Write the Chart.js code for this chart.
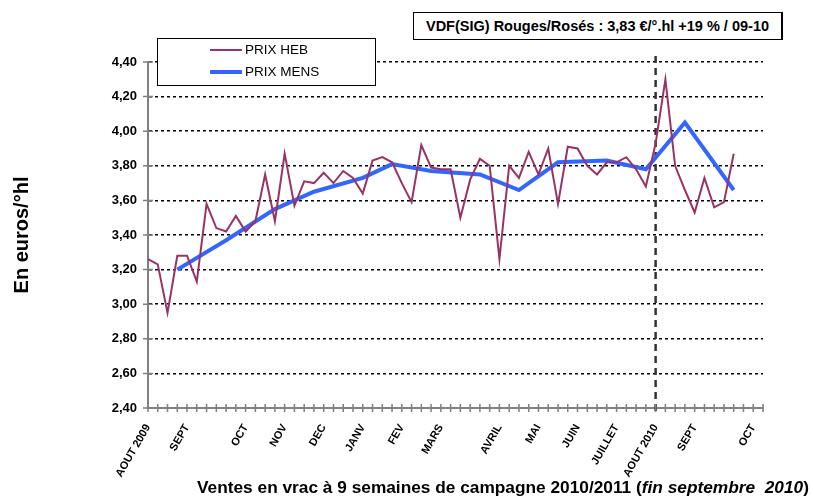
<!DOCTYPE html>
<html>
<head>
<meta charset="utf-8">
<script src="https://cdn.jsdelivr.net/npm/chart.js@4.4.1/dist/chart.umd.min.js"></script>
<style>
body { margin: 0; background: #fff; }
#wrap { position: relative; width: 813px; height: 497px; }
#note {
    position: absolute; left: 413px; top: 12px; width: 367px; height: 26px;
    border: 1px solid #000; border-right-width: 2px;
    font: bold 14.5px Arial, "Liberation Sans", sans-serif;
    line-height: 26px; text-align: center; background: #fff;
}
#xtitle {
    position: absolute; left: 197px; top: 477px; white-space: pre;
    font: bold 17.3px Arial, "Liberation Sans", sans-serif;
}
</style>
</head>
<body>
<div id="wrap">
    <canvas id="myChart" width="813" height="497"></canvas>
    <div id="note">VDF(SIG) Rouges/Rosés : 3,83 €/°.hl +19 % / 09-10</div>
    <div id="xtitle">Ventes en vrac à 9 semaines de campagne 2010/2011 (<i>fin septembre  2010</i>)</div>
</div>
<script>
var FONT = 'Arial, "Liberation Sans", sans-serif';

// weekly categories, month names on some weeks
var weekCount = 64;
var monthWeeks = [0, 4, 10, 14, 18, 22, 26, 30, 36, 40, 44, 48, 52, 56, 62];
var monthNames = ['AOUT 2009', 'SEPT', 'OCT', 'NOV', 'DEC', 'JANV', 'FEV', 'MARS',
                  'AVRIL', 'MAI', 'JUIN', 'JUILLET', 'AOUT 2010', 'SEPT', 'OCT'];

// weekly price (PRIX HEB), one per week from AOUT 2009
var prixHeb = [3.26, 3.23, 2.95, 3.28, 3.28, 3.13, 3.58, 3.44, 3.42, 3.51,
               3.42, 3.48, 3.75, 3.48, 3.87, 3.57, 3.71, 3.70, 3.76, 3.70,
               3.77, 3.73, 3.64, 3.83, 3.85, 3.82, 3.70, 3.59, 3.92, 3.79,
               3.78, 3.78, 3.50, 3.72, 3.84, 3.80, 3.26, 3.80, 3.73, 3.88,
               3.75, 3.90, 3.58, 3.91, 3.90, 3.80, 3.75, 3.82, 3.82, 3.85,
               3.78, 3.68, 3.93, 4.30, 3.80, 3.66, 3.53, 3.73, 3.56, 3.59,
               3.87];

// monthly price (PRIX MENS) and the week it is plotted on
var mensWeeks = [3, 8, 13, 17, 22, 25, 29, 34, 38, 42, 47, 51, 55, 60];
var prixMens = [3.20, 3.37, 3.55, 3.65, 3.73, 3.81, 3.77, 3.75, 3.66, 3.82, 3.83, 3.78, 4.05, 3.66];

var yTicks = [2.4, 2.6, 2.8, 3.0, 3.2, 3.4, 3.6, 3.8, 4.0, 4.2, 4.4];
var splitWeek = 52; // AOUT 2010

var categories = [];
for (var i = 0; i < weekCount; i++) categories.push('');
monthWeeks.forEach(function (w, k) { categories[w] = monthNames[k]; });

var mensData = [];
for (var i = 0; i < weekCount; i++) mensData.push(null);
mensWeeks.forEach(function (w, k) { mensData[w] = prixMens[k]; });

// dashed split line, crossing tick marks, boxed legend
var extras = {
    id: 'extras',
    beforeDatasetsDraw: function (chart) {
        var ctx = chart.ctx, area = chart.chartArea;
        var x = chart.scales.x.getPixelForValue(splitWeek);
        ctx.save();
        ctx.strokeStyle = '#333';
        ctx.lineWidth = 2.5;
        ctx.setLineDash([7, 5]);
        ctx.beginPath();
        ctx.moveTo(x, area.top - 6);
        ctx.lineTo(x, area.bottom + 8);
        ctx.stroke();
        ctx.restore();
    },
    afterDraw: function (chart) {
        var ctx = chart.ctx, area = chart.chartArea;
        var xs = chart.scales.x, ys = chart.scales.y;
        ctx.save();
        ctx.strokeStyle = '#808080';
        ctx.lineWidth = 1.5;
        ctx.beginPath();
        xs.ticks.forEach(function (t, i) {
            var px = xs.getPixelForTick(i);
            ctx.moveTo(px, area.bottom - 4);
            ctx.lineTo(px, area.bottom + 4);
        });
        ys.ticks.forEach(function (t, i) {
            var py = ys.getPixelForTick(i);
            ctx.moveTo(area.left - 5, py);
            ctx.lineTo(area.left + 5, py);
        });
        ctx.stroke();

        // legend
        var lx = area.left + 9, ly = area.top - 24;
        ctx.fillStyle = '#fff';
        ctx.fillRect(lx, ly, 218, 47);
        ctx.strokeStyle = '#000';
        ctx.lineWidth = 1;
        ctx.strokeRect(lx + 0.5, ly + 0.5, 218, 47);
        ctx.font = '13.5px ' + FONT;
        ctx.textBaseline = 'middle';
        chart.data.datasets.forEach(function (ds, k) {
            var yy = ly + 12 + k * 22;
            ctx.strokeStyle = ds.borderColor;
            ctx.lineWidth = ds.borderWidth;
            ctx.beginPath();
            ctx.moveTo(lx + 53, yy);
            ctx.lineTo(lx + 85, yy);
            ctx.stroke();
            ctx.fillStyle = '#000';
            ctx.fillText(ds.label, lx + 88, yy);
        });
        ctx.restore();
    }
};

var chart = new Chart(document.getElementById('myChart'), {
    type: 'line',
    data: {
        labels: categories,
        datasets: [{
            label: 'PRIX HEB',
            data: prixHeb,
            borderColor: '#993366',
            borderWidth: 2,
            pointRadius: 0,
            tension: 0
        }, {
            label: 'PRIX MENS',
            data: mensData,
            spanGaps: true,
            borderColor: '#3366ff',
            borderWidth: 4,
            pointRadius: 0,
            tension: 0
        }]
    },
    options: {
        responsive: false,
        animation: false,
        layout: { padding: { left: 0, right: 50, top: 62, bottom: 0 } },
        plugins: { legend: { display: false }, tooltip: { enabled: false } },
        scales: {
            x: {
                afterFit: function (scale) { scale.height = 89; },
                grid: { drawOnChartArea: false, drawTicks: false },
                border: { display: true, color: '#808080', width: 2 },
                ticks: {
                    autoSkip: false, minRotation: 60, maxRotation: 60, padding: 14,
                    color: '#000', font: { family: FONT, size: 11, weight: 'bold' }
                }
            },
            y: {
                min: 2.4, max: 4.4,
                afterFit: function (scale) { scale.width = 148; },
                afterBuildTicks: function (scale) {
                    scale.ticks = yTicks.map(function (v) { return { value: v }; });
                },
                grid: { drawTicks: false, color: '#000', lineWidth: 1.5 },
                // in v4 border.dash styles the grid lines
                border: { display: true, color: '#808080', width: 2, dash: [3, 3] },
                ticks: {
                    padding: 11, color: '#000',
                    font: { family: FONT, size: 13, weight: 'bold' },
                    callback: function (v) { return v.toFixed(2).replace('.', ','); }
                },
                title: {
                    display: true, text: 'En euros/°hl', color: '#000',
                    font: { family: FONT, size: 20, weight: 'bold' },
                    padding: { top: 10, bottom: 0 }
                }
            }
        }
    },
    plugins: [extras]
});
</script>
</body>
</html>
